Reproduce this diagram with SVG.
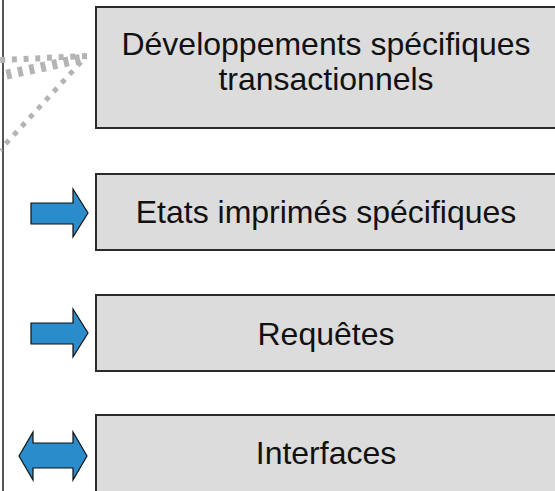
<svg xmlns="http://www.w3.org/2000/svg" width="555" height="491" viewBox="0 0 555 491">
  <style>
    .box { fill: #dcdcdc; stroke: #2b2b2b; stroke-width: 2; }
    .label { font-family: "Liberation Sans", Arial, sans-serif; font-size: 32px; fill: #111; text-anchor: middle; }
    .blk { fill: #2a8ccb; stroke: #111; stroke-width: 1.2; stroke-linejoin: miter; }
    .dot { fill: none; stroke: #b4b4b4; }
    .rail { stroke: #555; stroke-width: 2; }
  </style>

  <!-- left rail -->
  <line class="rail" x1="3" y1="0" x2="3" y2="491"/>

  <!-- dotted links toward the first box -->
  <g id="connectors">
    <line class="dot" x1="87" y1="56" x2="0" y2="60" stroke-width="6" stroke-dasharray="5 6.7"/>
    <line class="dot" x1="80" y1="59" x2="0" y2="76" stroke-width="10" stroke-dasharray="5 6.7"/>
    <line class="dot" x1="81" y1="62" x2="0" y2="150" stroke-width="5" stroke-dasharray="5 6.8"/>
  </g>

  <g id="node-transactionnels">
    <rect class="box" x="96" y="7" width="460" height="121"/>
    <text class="label" x="326" y="55">Développements spécifiques</text>
    <text class="label" x="326" y="90">transactionnels</text>
  </g>

  <g id="node-etats">
    <rect class="box" x="96" y="174" width="460" height="76"/>
    <text class="label" x="326" y="223">Etats imprimés spécifiques</text>
  </g>

  <g id="node-requetes">
    <rect class="box" x="96" y="295" width="460" height="76"/>
    <text class="label" x="326" y="345">Requêtes</text>
  </g>

  <g id="node-interfaces">
    <rect class="box" x="96" y="415" width="460" height="90"/>
    <text class="label" x="326" y="464">Interfaces</text>
  </g>

  <g id="arrow-etats">
    <polygon class="blk" points="31,203 73,203 73,189 88,213 73,237 73,224 31,224"/>
  </g>

  <g id="arrow-requetes">
    <polygon class="blk" points="31,323 73,323 73,309 88,333 73,357 73,344 31,344"/>
  </g>

  <g id="arrow-interfaces">
    <polygon class="blk" points="19,456 33,432 33,443 73,443 73,432 87,456 73,480 73,468 33,468 33,480"/>
  </g>
</svg>
